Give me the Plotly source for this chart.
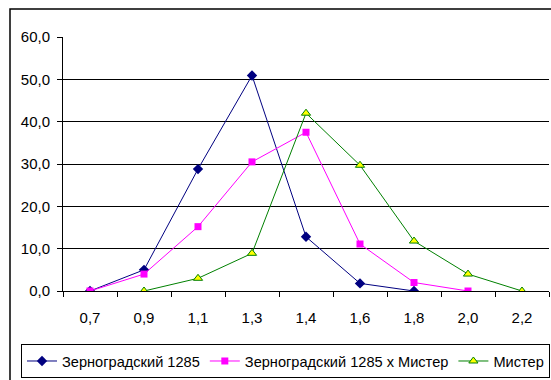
import plotly.graph_objects as go

categories = ["0,7", "0,9", "1,1", "1,3", "1,4", "1,6", "1,8", "2,0", "2,2"]
zern = [0, 5.0, 28.8, 50.9, 12.8, 1.8, 0, None, None]
zern_mister = [0, 4.0, 15.2, 30.5, 37.5, 11.1, 2.0, 0, None]
mister = [None, 0, 3.0, 8.9, 42.0, 29.7, 11.8, 4.0, 0]

names = ["Зерноградский 1285", "Зерноградский 1285 х Мистер", "Мистер"]

fig = go.Figure()
fig.add_trace(go.Scatter(x=categories, y=zern, name=names[0], mode="lines+markers",
                         line=dict(color="#000080", width=1),
                         marker=dict(symbol="diamond", size=8, color="#000080")))
fig.add_trace(go.Scatter(x=categories, y=zern_mister, name=names[1], mode="lines+markers",
                         line=dict(color="#FF00FF", width=1),
                         marker=dict(symbol="square", size=7, color="#FF00FF")))
fig.add_trace(go.Scatter(x=categories, y=mister, name=names[2], mode="lines+markers",
                         line=dict(color="#008000", width=1),
                         marker=dict(symbol="triangle-up", size=8, color="#FFFF00",
                                     line=dict(color="#008000", width=1))))

fig.update_layout(
    width=551, height=380,
    margin=dict(l=63, r=2, t=37, b=89),
    paper_bgcolor="white", plot_bgcolor="white",
    font=dict(family="Liberation Sans, Arial, sans-serif", size=15, color="black"),
    separators=", ",
    showlegend=True,
    legend=dict(orientation="h", x=(21 - 63) / 486, y=-(378 - 291) / 254,
                xanchor="left", yanchor="bottom",
                bordercolor="black", borderwidth=1, bgcolor="white",
                font=dict(size=14.6), itemwidth=30, tracegroupgap=0),
    xaxis=dict(type="category", showgrid=False, showline=True, linecolor="black",
               linewidth=1, ticks="outside", tickson="boundaries", ticklen=5,
               tickcolor="black", ticklabelstandoff=13, range=[-0.5, 8.5],
               tickfont=dict(size=15), automargin=False),
    yaxis=dict(range=[0, 60], dtick=10, tickformat=".1f", showgrid=True,
               gridcolor="black", gridwidth=1, showline=True, linecolor="black",
               linewidth=1, ticks="outside", ticklen=5, tickcolor="black",
               ticklabelstandoff=4, automargin=False,
               zeroline=False, tickfont=dict(size=15)),
    shapes=[dict(type="rect", xref="paper", yref="paper",
                 x0=(10 - 63) / 486, x1=1.1, y0=-0.5, y1=1 + (37 - 9) / 254,
                 line=dict(color="black", width=1.5), fillcolor="rgba(0,0,0,0)",
                 layer="below")],
)

fig.write_html("out.html")
